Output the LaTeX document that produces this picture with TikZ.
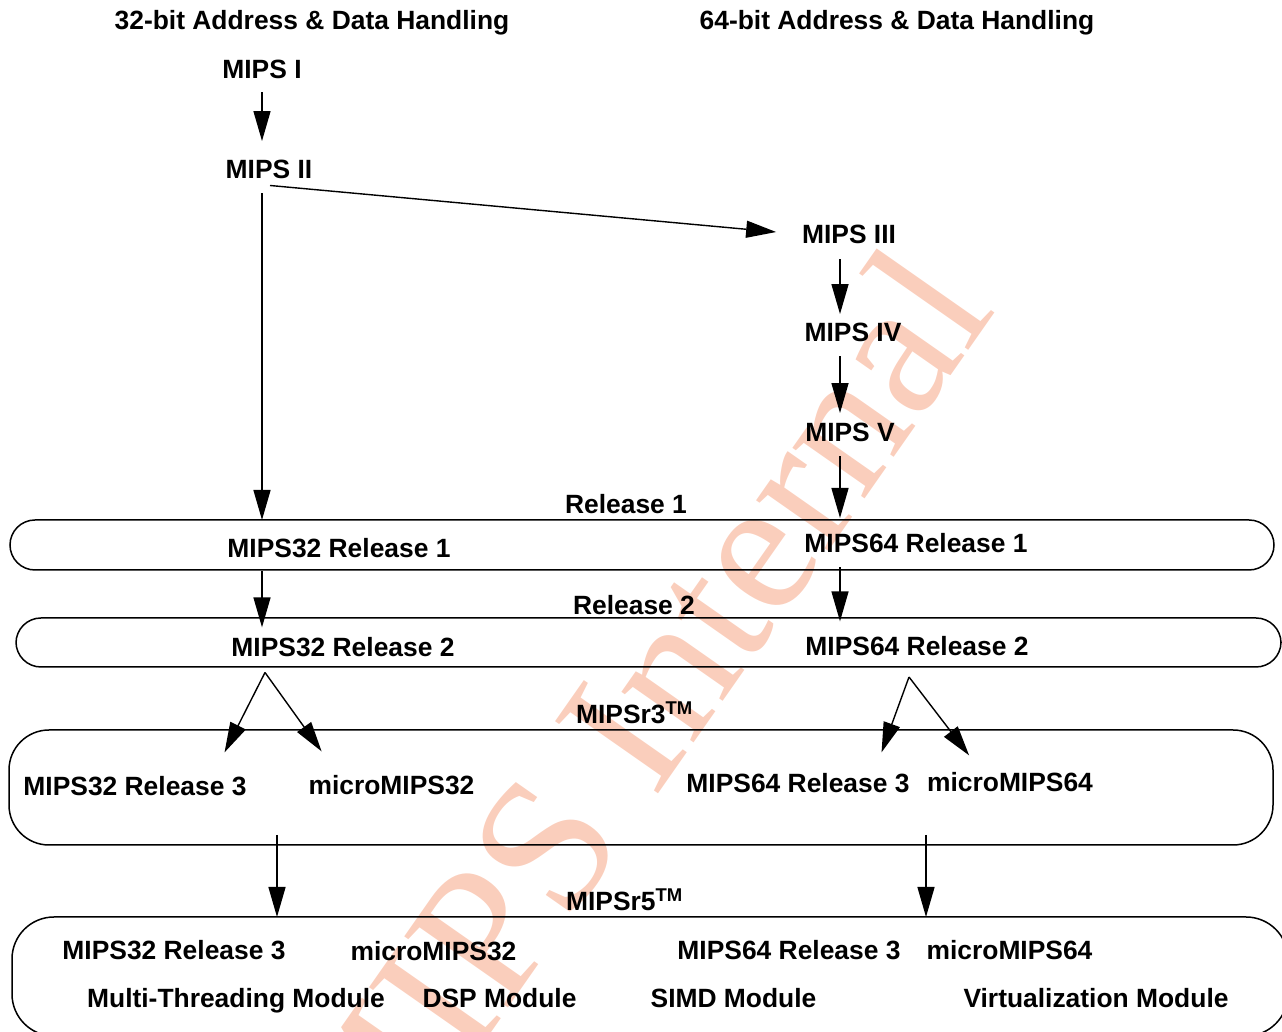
\documentclass[tikz,border=0pt]{standalone}
\usepackage{fontspec}
\setmainfont{Liberation Sans}
\newfontfamily\stampfont{Liberation Serif}
\usetikzlibrary{arrows.meta}

\begin{document}
\begin{tikzpicture}[x=1pt,y=1pt,
  lbl/.style={text=drawColor,anchor=base,inner sep=0pt,outer sep=0pt,font=\fontsize{26.4}{30}\selectfont\bfseries},
  band/.style={draw=drawColor,line width=1.5pt,inner sep=0pt,outer sep=0pt},
  arr/.style={draw=drawColor,line width=1.4pt,-{Triangle[length=30pt,width=17pt]}},
  stamp/.style={text=stampColor,rotate=55,inner sep=0pt,outer sep=0pt,font=\stampfont\fontsize{192}{192}\selectfont}]
\definecolor{drawColor}{RGB}{0,0,0}
\definecolor{stampColor}{RGB}{250,206,188}
\path[use as bounding box] (0,0) rectangle (1282,1032);
\begin{scope}
\path[clip] (0,0) rectangle (1282,1032);

% watermark
\node[stamp] (wm) at (630,312) {MIPS Internal};

% release bands
\node[band,rounded corners=25pt,minimum width=1264pt,minimum height=50pt] (bandOne) at (642,487) {};
\node[band,rounded corners=25pt,minimum width=1265pt,minimum height=49pt] (bandTwo) at (648.5,389.5) {};
\node[band,rounded corners=40pt,minimum width=1264pt,minimum height=115pt] (bandThree) at (641,244.5) {};
\node[band,rounded corners=42pt,minimum width=1276pt,minimum height=119pt] (bandFour) at (650,55.5) {};

% headings
\node[lbl] (hdrA) at (312,1002) {32-bit Address \& Data Handling};
\node[lbl] (hdrB) at (897,1002) {64-bit Address \& Data Handling};

% early ISAs
\node[lbl] (mipsI) at (262,953.5) {MIPS I};
\node[lbl] (mipsII) at (269,853.5) {MIPS II};
\node[lbl] (mipsIII) at (849,788.5) {MIPS III};
\node[lbl] (mipsIV) at (853,690.5) {MIPS IV};
\node[lbl] (mipsV) at (850,590.5) {MIPS V};

% release 1 and 2
\node[lbl] (relOne) at (626,518.5) {Release 1};
\node[lbl] (mOneA) at (339,474.5) {MIPS32 Release 1};
\node[lbl] (mOneB) at (916,479.5) {MIPS64 Release 1};
\node[lbl] (relTwo) at (634,417.5) {Release 2};
\node[lbl] (mTwoA) at (343,375.5) {MIPS32 Release 2};
\node[lbl] (mTwoB) at (917,376.5) {MIPS64 Release 2};

% r3
\node[lbl] (rThree) at (634.5,308.5) {MIPSr3\textsuperscript{TM}};
\node[lbl] (mThreeA) at (135,236.5) {MIPS32 Release 3};
\node[lbl] (uThreeA) at (391.5,237.5) {microMIPS32};
\node[lbl] (mThreeB) at (798,239.5) {MIPS64 Release 3};
\node[lbl] (uThreeB) at (1010,240.5) {microMIPS64};

% r5
\node[lbl] (rFive) at (624.5,121.5) {MIPSr5\textsuperscript{TM}};
\node[lbl] (mFiveA) at (174,72.5) {MIPS32 Release 3};
\node[lbl] (uFiveA) at (433.5,71.5) {microMIPS32};
\node[lbl] (mFiveB) at (789,72.5) {MIPS64 Release 3};
\node[lbl] (uFiveB) at (1009.5,72.5) {microMIPS64};
\node[lbl] (modMT) at (236,24.5) {Multi-Threading Module};
\node[lbl] (modDSP) at (499.5,24.5) {DSP Module};
\node[lbl] (modSIMD) at (733.5,24.5) {SIMD Module};
\node[lbl] (modVZ) at (1096,24.5) {Virtualization Module};

% arrow columns
\coordinate (colA) at (262,0);
\coordinate (colB) at (840,0);
\coordinate (colC) at (277,0);
\coordinate (colD) at (926,0);
\coordinate (forkA) at ([shift={(-78pt,-16pt)}]mTwoA.base);
\coordinate (forkB) at ([shift={(-8pt,-21.5pt)}]mTwoB.base);

% arrows
\draw[arr,shorten <=14pt,shorten >=19pt] (mipsI.base -| colA) -- (mipsII.north -| colA);
\draw[arr,shorten <=15pt] (mipsII.base -| colA) -- (bandOne.north -| colA);
\draw[arr,shorten >=26pt] ([shift={(1pt,-7pt)}]mipsII.base) -- (mipsIII.west);
\draw[arr,shorten <=16pt,shorten >=9pt] (mipsIII.base -| colB) -- (mipsIV.north -| colB);
\draw[arr,shorten <=15pt,shorten >=10pt] (mipsIV.base -| colB) -- (mipsV.north -| colB);
\draw[arr,shorten <=15pt,shorten >=2pt] (mipsV.base -| colB) -- (bandOne.north -| colB);
\draw[arr,shorten <=14pt,shorten >=10pt] (mOneA.base -| colA) -- (mTwoA.north -| colA);
\draw[arr,shorten <=15pt,shorten >=15pt] (mOneB.base -| colB) -- (mTwoB.north -| colB);
\draw[arr] (forkA) -- ([shift={(-22pt,24pt)}]mThreeA.north east);
\draw[arr] (forkA) -- ([shift={(13pt,24pt)}]uThreeA.north west);
\draw[arr] (forkB) -- ([shift={(-28pt,21pt)}]mThreeB.north east);
\draw[arr] (forkB) -- ([shift={(42pt,17pt)}]uThreeB.north west);
\draw[arr,shorten <=-10pt] (bandThree.south -| colC) -- (bandFour.north -| colC);
\draw[arr,shorten <=-10pt] (bandThree.south -| colD) -- (bandFour.north -| colD);
\end{scope}
\end{tikzpicture}
\end{document}
